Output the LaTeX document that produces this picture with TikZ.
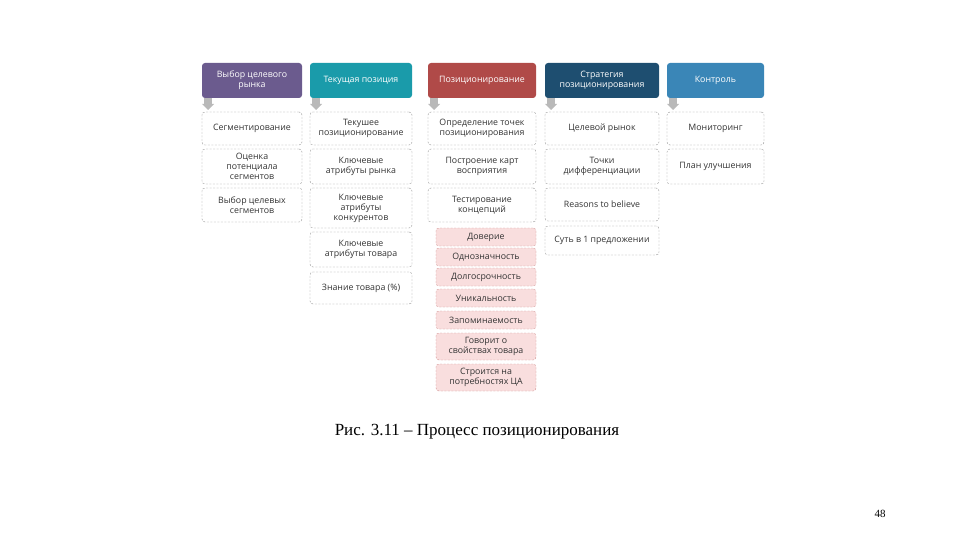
\documentclass[tikz,border=0pt]{standalone}
\usepackage{fontspec}
\setmainfont{Liberation Serif}
\newfontfamily\boxfont{Open Sans}
\begin{document}
\begin{tikzpicture}[x=1pt,y=-1pt]
\definecolor{cA}{HTML}{6B5B8E}\definecolor{cB}{HTML}{1A9BAA}\definecolor{cC}{HTML}{B04A48}
\definecolor{cD}{HTML}{1E4E70}\definecolor{cE}{HTML}{3A86B7}
\definecolor{pinkf}{HTML}{F9DEDE}
\useasboundingbox (0,0) rectangle (960,540);
\tikzset{
 hdr/.style={rounded corners=3pt,text=white,font=\boxfont\fontsize{8.8}{10}\selectfont,align=center},
 itm/.style={draw=gray!85,dash pattern=on 2pt off 1.5pt,rounded corners=3pt,font=\boxfont\fontsize{8.8}{10}\selectfont,align=center,text=black!80,inner sep=1pt},
 pk/.style={itm,fill=pinkf,draw=cC!60},
 arr/.style={fill=gray!55,draw=none}
}
% headers
\foreach \xa/\xb/\c/\t [count=\i] in {202/302/cA/{Выбор целевого\\рынка},310/412/cB/{Текущая позиция},428/536/cC/{Позиционирование},545/659/cD/{Стратегия\\позиционирования},667/764/cE/{Контроль}}{
 \fill[\c,rounded corners=3pt] (\xa,63) rectangle (\xb,98);
 \node[hdr] (h\i) at ({(\xa+\xb)/2},80.5) {\t};
 \fill[arr] (\xa+2,98) rectangle (\xa+10,104);
 \fill[arr] (\xa+0,104) -- (\xa+12,104) -- (\xa+6,110) -- cycle;
}
\foreach \xa/\xb/\ya/\yb/\t [count=\i] in {
 202/302/112/145/{Сегментирование},202/302/149/184/{Оценка\\потенциала\\сегментов},202/302/188/222/{Выбор целевых\\сегментов},
 310/412/112/145/{Текушее\\позиционирование},310/412/149/184/{Ключевые\\атрибуты рынка},310/412/188/228/{Ключевые\\атрибуты\\конкурентов},310/412/232/267/{Ключевые\\атрибуты товара},310/412/272/304/{Знание товара (\%)},
 428/536/112/145/{Определение точек\\позиционирования},428/536/149/184/{Построение карт\\восприятия},428/536/188/222/{Тестирование\\концепций},
 545/659/112/145/{Целевой рынок},545/659/149/184/{Точки\\дифференциации},545/659/188/221/{Reasons to believe},545/659/226/255/{Суть в 1 предложении},
 667/764/112/145/{Мониторинг},667/764/149/184/{План улучшения}}{
 \node[itm,minimum width={\xb-\xa},minimum height={\yb-\ya}] (b\i) at ({(\xa+\xb)/2},{(\ya+\yb)/2}) {\t};
}
\foreach \ya/\yb/\t [count=\i] in {228/246/{Доверие},248/266/{Однозначность},268/286/{Долгосрочность},289/307/{Уникальность},311/329/{Запоминаемость},333/360/{Говорит о\\свойствах товара},364/391/{Строится на\\потребностях ЦА}}{
 \node[pk,minimum width=100,minimum height={\yb-\ya}] (p\i) at (486,{(\ya+\yb)/2}) {\t};
}
\node[font=\fontsize{17}{20}\selectfont] (cap) at (477,432) {Рис. 3.11 – Процесс позиционирования};
\node[font=\fontsize{11}{13}\selectfont] (pg) at (880,514) {48};
\end{tikzpicture}
\end{document}
